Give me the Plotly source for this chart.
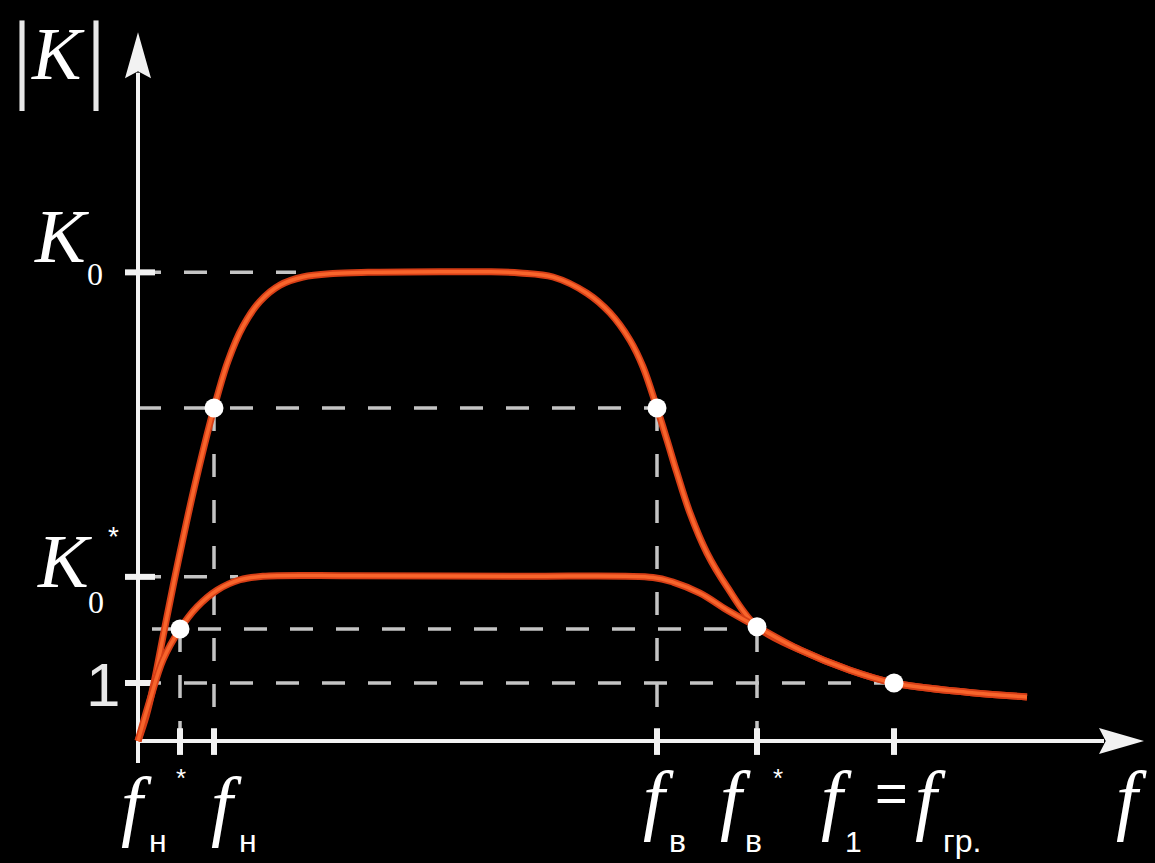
import plotly.graph_objects as go

# ---------------- data (schematic units) ----------------
# frequency marks on the f axis
F_N_STAR = 4.2
F_N = 7.6
F_V = 51.9
F_V_STAR = 61.9
F_1 = 75.6
F_END = 100.6
f_ticks = [F_N_STAR, F_N, F_V, F_V_STAR, F_1]

# gain levels on the |K| axis
K0 = 8.08
K0_STAR = 2.83
K_ONE = 1.0
K0_LVL = 5.74       # 0.707*K0
K0S_LVL = 1.93      # 0.707*K0*
K_END = 12.22
k_ticks = [K0, K0_STAR, K_ONE]

# upper response (no feedback)
upper_f = [0, 0.8, 1.6, 2.5, 3.6, 5.6, 7.6, 9.0, 10.5, 12.2, 14.2, 16.5, 19.5, 23.0,
           31.2, 35.0, 38.2, 41.5, 44.9, 47.2, 49.2, 50.5, 51.9, 52.9, 53.9, 55.2,
           56.9, 58.9, 61.9, 66.2, 71.2, 75.6, 82.9, 88.9]
upper_k = [0, 0.42, 1.00, 1.80, 2.75, 4.35, 5.74, 6.55, 7.15, 7.58, 7.86, 8.00, 8.06,
           8.08, 8.09, 8.09, 8.07, 8.00, 7.72, 7.38, 6.91, 6.45, 5.74, 5.19, 4.62,
           3.93, 3.24, 2.66, 1.97, 1.57, 1.22, 1.00, 0.84, 0.76]

# lower response (with feedback)
lower_f = [0, 1.2, 2.5, 4.2, 5.9, 7.9, 10.2, 12.5, 21.2, 38.2, 51.5, 53.5, 56.2,
           58.9, 61.9, 66.2, 71.2, 75.6, 82.9, 88.9]
lower_k = [0, 0.71, 1.40, 1.93, 2.31, 2.60, 2.78, 2.84, 2.85, 2.84, 2.82, 2.74, 2.55,
           2.26, 1.97, 1.57, 1.22, 1.00, 0.84, 0.76]

# marked points
dot_f = [F_N_STAR, F_N, F_V, F_V_STAR, F_1]
dot_k = [K0S_LVL, K0_LVL, K0_LVL, 1.97, K_ONE]

# ---------------- layout helpers ----------------
W, H = 1155, 863
X0, Y0 = 138, 741          # origin in pixels
SX, SY = 10.0, 58.0        # pixels per unit
XR = [(0 - X0) / SX, (W - X0) / SX]
YR = [(Y0 - H) / SY, (Y0 - 0) / SY]


def P(px, py):
    return (px - X0) / SX, (Y0 - py) / SY


DASH_C = "#c4c4c4"
AX_C = "#f2f2f2"
SERIF = "Liberation Serif"
SANS = "Liberation Sans"

fig = go.Figure()


def seg(xs, ys, color, width, dash=None):
    fig.add_trace(go.Scatter(x=xs, y=ys, mode="lines", hoverinfo="skip",
                             line=dict(color=color, width=width, dash=dash),
                             showlegend=False))


dash = "23px,23px"
# horizontal dashed guides
seg([0, 15.8], [K0, K0], DASH_C, 3.5, dash)
seg([0, F_V], [K0_LVL, K0_LVL], DASH_C, 3.5, dash)
seg([0, 10.0], [K0_STAR, K0_STAR], DASH_C, 3.5, dash)
seg([1.4, F_V_STAR], [K0S_LVL, K0S_LVL], DASH_C, 3.5, dash)
seg([0, F_1], [K_ONE, K_ONE], DASH_C, 3.5, dash)
# vertical dashed guides
seg([F_N_STAR, F_N_STAR], [K0S_LVL, 0], DASH_C, 3.5, dash)
seg([F_N, F_N], [K0_LVL, 0], DASH_C, 3.5, dash)
seg([F_V, F_V], [K0_LVL, 0], DASH_C, 3.5, dash)
seg([F_V_STAR, F_V_STAR], [K0S_LVL, 0], DASH_C, 3.5, dash)

# axes
seg([0, 0], [-0.38, K_END - 0.7], AX_C, 4)
seg([0, F_END - 4.0], [0, 0], AX_C, 4)

# ticks
tx, ty = [], []
for f in f_ticks:
    tx += [f, f, None]
    ty += [0.22, -0.24, None]
seg(tx, ty, AX_C, 6)
kx, ky = [], []
for k in k_ticks:
    kx += [-1.3, 1.7, None]
    ky += [k, k, None]
seg(kx, ky, AX_C, 6)

# curves
for fx, ky_ in ((upper_f, upper_k), (lower_f, lower_k)):
    fig.add_trace(go.Scatter(x=fx, y=ky_, mode="lines", hoverinfo="skip",
                             line=dict(color="#D63E16", width=7, shape="spline", smoothing=1.0),
                             showlegend=False))
    fig.add_trace(go.Scatter(x=fx, y=ky_, mode="lines", hoverinfo="skip",
                             line=dict(color="#F8652C", width=3.5, shape="spline", smoothing=1.0),
                             showlegend=False))

# dots
fig.add_trace(go.Scatter(x=dot_f, y=dot_k, mode="markers", hoverinfo="skip",
                         marker=dict(color="#ffffff", size=19, line=dict(width=0)),
                         showlegend=False))

# arrowheads
ah_len_y, ah_half_y = 46 / SY, 13 / SX
ah_len_x, ah_half_x = 45 / SX, 13 / SY
shapes = [
    dict(type="path", xref="x", yref="y", fillcolor=AX_C, line=dict(width=0),
         path=f"M 0 {K_END} L {-ah_half_y} {K_END - ah_len_y} L 0 {K_END - ah_len_y * 0.85} "
              f"L {ah_half_y} {K_END - ah_len_y} Z"),
    dict(type="path", xref="x", yref="y", fillcolor=AX_C, line=dict(width=0),
         path=f"M {F_END} 0 L {F_END - ah_len_x} {ah_half_x} L {F_END - ah_len_x * 0.85} 0 "
              f"L {F_END - ah_len_x} {-ah_half_x} Z"),
]

annotations = []


def txt(text, px, py, size, family=SERIF, color="#ffffff"):
    x, y = P(px, py)
    annotations.append(dict(x=x, y=y, xref="x", yref="y", text=text, showarrow=False,
                            xanchor="center", yanchor="middle",
                            font=dict(family=family, size=size, color=color)))


# |K|
txt("|", 22, 56, 100, SERIF, "#e8e8e8")
txt("<i>K</i>", 58, 54, 74)
txt("|", 96, 56, 100, SERIF, "#e8e8e8")
# K0
txt("<i>K</i>", 61, 236, 76)
txt("0", 95, 274, 32)
# K0*
txt("<i>K</i>", 64, 561, 76)
txt("0", 96, 602, 32)
txt("*", 113, 536, 28, SANS)
# 1
txt("1", 103, 684, 62, SANS, "#e8e8e8")
# f labels
txt("<i>f</i>", 136, 804, 78)
txt("н", 158, 841, 32, SANS)
txt("*", 181, 778, 26, SANS)
txt("<i>f</i>", 226, 804, 78)
txt("н", 248, 841, 32, SANS)
txt("<i>f</i>", 658, 798, 78)
txt("в", 677, 841, 32, SANS)
txt("<i>f</i>", 735, 798, 78)
txt("в", 753, 841, 32, SANS)
txt("*", 778, 778, 26, SANS)
txt("<i>f</i>", 836, 798, 78)
txt("1", 853, 841, 30, SANS)
txt("=", 891, 792, 56, SANS)
txt("<i>f</i>", 930, 798, 78)
txt("гр.", 962, 841, 32, SANS)
txt("<i>f</i>", 1131, 798, 78)

fig.update_layout(
    width=W, height=H, autosize=False,
    margin=dict(l=0, r=0, t=0, b=0),
    paper_bgcolor="#000000", plot_bgcolor="#000000",
    xaxis=dict(range=XR, visible=False, fixedrange=True),
    yaxis=dict(range=YR, visible=False, fixedrange=True),
    shapes=shapes, annotations=annotations,
    showlegend=False,
)

fig.write_html("out.html", config={"displayModeBar": False})

# remove the browser's default page margin so the figure fills the window
with open("out.html", "r", encoding="utf-8") as fh:
    html = fh.read()
html = html.replace("<head>", "<head><style>html,body{margin:0;padding:0;background:#000;overflow:hidden}</style>", 1)
with open("out.html", "w", encoding="utf-8") as fh:
    fh.write(html)
